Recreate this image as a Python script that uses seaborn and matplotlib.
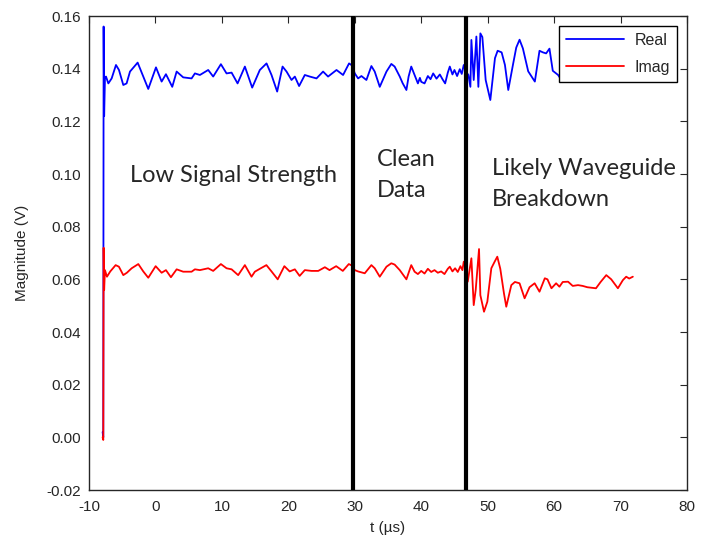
import matplotlib
matplotlib.use("Agg")
import matplotlib.pyplot as plt
import seaborn as sns
import pandas as pd
from matplotlib.lines import Line2D

# ---------------- data ----------------
real_t = [-7.95, -7.85, -7.80, -7.72, -7.60, -7.44, -7.09, -6.59, -5.94, -5.49,
          -4.84, -4.34, -3.83, -2.68, -1.83, -1.08, 0.08, 0.93, 1.58, 2.53,
          3.19, 4.18, 5.44, 5.94, 6.69, 7.94, 8.69, 9.85, 10.7, 11.46,
          12.36, 13.46, 14.56, 15.71, 16.72, 17.47, 18.32, 19.13, 19.73, 20.48,
          20.98, 21.62, 22.48, 23.23, 24.24, 25.23, 25.98, 27.25, 28.24, 29.14,
          29.6, 30.0, 30.5, 31.0, 31.75, 32.5, 33.0, 33.76, 34.77, 35.5,
          36.0, 36.77, 37.2, 37.77, 38.1, 38.5, 39.0, 39.5, 39.8, 40.0,
          40.5, 41.0, 41.4, 41.8, 42.3, 42.8, 43.2, 43.6, 44.0, 44.3,
          44.7, 45.0, 45.4, 45.8, 46.1, 46.4, 46.7, 47.1, 47.4, 47.55,
          47.9, 48.3, 48.6, 48.9, 49.2, 49.7, 50.4, 51.1, 51.5, 52.1,
          52.6, 53.1, 53.8, 54.3, 54.8, 55.3, 56.1, 57.1, 57.8, 58.3,
          58.8, 59.3, 59.8, 60.6, 61.1, 62.0, 63.0, 64.0, 65.0, 66.0,
          67.5, 68.5, 69.5, 70.5, 71.8]
real_v = [0.002, 0.000, 0.156, 0.122, 0.1363, 0.1370, 0.1344, 0.1363, 0.1414, 0.1395,
          0.1338, 0.1344, 0.1389, 0.1423, 0.1370, 0.1323, 0.1405, 0.1351, 0.1379, 0.1331,
          0.1389, 0.1367, 0.1363, 0.1382, 0.1376, 0.1395, 0.1370, 0.1417, 0.1382, 0.1385,
          0.1344, 0.1408, 0.1328, 0.1395, 0.1420, 0.1376, 0.1313, 0.1408, 0.1389, 0.1357,
          0.1370, 0.1334, 0.1376, 0.1370, 0.1363, 0.1389, 0.1370, 0.1395, 0.1376, 0.1420,
          0.1412, 0.1382, 0.1363, 0.1372, 0.1357, 0.1410, 0.1389, 0.1331, 0.1389, 0.1418,
          0.1408, 0.1370, 0.1345, 0.1319, 0.1370, 0.1408, 0.1376, 0.1344, 0.1365, 0.1350,
          0.1344, 0.1372, 0.1360, 0.1382, 0.1362, 0.1378, 0.1360, 0.1344, 0.1385, 0.1408,
          0.1378, 0.1395, 0.1372, 0.1398, 0.1380, 0.1414, 0.1390, 0.1376, 0.1331, 0.1509,
          0.1357, 0.1522, 0.1331, 0.1534, 0.1520, 0.1357, 0.1281, 0.1440, 0.1468, 0.1462,
          0.1414, 0.1319, 0.1414, 0.1480, 0.1510, 0.1477, 0.1390, 0.1351, 0.1468, 0.1462,
          0.1458, 0.1476, 0.1392, 0.1376, 0.1357, 0.1365, 0.1385, 0.1395, 0.1380, 0.1372,
          0.1400, 0.1390, 0.1375, 0.1390, 0.1395]

imag_t = [-7.95, -7.85, -7.80, -7.72, -7.60, -7.3, -6.8, -5.99, -5.5, -4.84,
          -4.3, -3.58, -2.58, -1.83, -1.08, 0.03, 0.93, 1.58, 2.33, 3.19,
          4.18, 5.44, 5.94, 6.69, 7.94, 8.69, 9.85, 10.7, 11.46, 12.45,
          13.46, 14.46, 14.96, 15.71, 16.7, 17.47, 18.4, 19.4, 20.2, 20.98,
          21.7, 22.48, 23.5, 24.5, 25.5, 26.2, 27.2, 28.2, 29.1, 29.6,
          30.0, 30.5, 31.5, 32.5, 33.0, 33.76, 34.77, 35.5, 36.0, 36.77,
          37.77, 38.5, 39.0, 39.5, 40.0, 40.5, 41.0, 41.5, 42.0, 42.5,
          43.0, 43.5, 44.0, 44.3, 44.7, 45.1, 45.5, 45.9, 46.2, 46.4,
          46.7, 47.0, 47.55, 47.9, 48.2, 48.7, 48.9, 49.45, 49.95, 50.55,
          51.05, 51.45, 51.9, 52.45, 52.8, 53.56, 54.1, 54.8, 55.56, 56.3,
          57.07, 57.8, 58.6, 59.0, 59.6, 60.3, 60.8, 61.3, 62.1, 62.8,
          63.6, 64.3, 65.0, 66.3, 67.0, 67.85, 68.6, 69.6, 70.35, 70.85,
          71.3, 71.85]
imag_v = [0.000, -0.001, 0.072, 0.056, 0.0635, 0.0610, 0.0630, 0.0654, 0.0648, 0.0616,
          0.0625, 0.0642, 0.0658, 0.0630, 0.0606, 0.0650, 0.0625, 0.0635, 0.0608, 0.0638,
          0.0629, 0.0629, 0.0638, 0.0635, 0.0642, 0.0632, 0.0658, 0.0642, 0.0638, 0.0616,
          0.0654, 0.0610, 0.0629, 0.0640, 0.0654, 0.0630, 0.0600, 0.0650, 0.0630, 0.0638,
          0.0613, 0.0635, 0.0632, 0.0632, 0.0646, 0.0635, 0.0650, 0.0632, 0.0658, 0.0652,
          0.0635, 0.0630, 0.0623, 0.0654, 0.0642, 0.0610, 0.0648, 0.0661, 0.0656, 0.0635,
          0.0600, 0.0654, 0.0629, 0.0620, 0.0632, 0.0622, 0.0640, 0.0628, 0.0635, 0.0625,
          0.0630, 0.0620, 0.0640, 0.0648, 0.0630, 0.0642, 0.0628, 0.0650, 0.0635, 0.0667,
          0.0640, 0.0591, 0.0680, 0.0502, 0.0560, 0.0715, 0.0540, 0.0477, 0.0515, 0.0642,
          0.0667, 0.0686, 0.0640, 0.0547, 0.0496, 0.0578, 0.0590, 0.0585, 0.0528, 0.0570,
          0.0585, 0.0553, 0.0604, 0.0600, 0.0566, 0.0585, 0.0572, 0.0590, 0.0591, 0.0575,
          0.0578, 0.0575, 0.0570, 0.0566, 0.0590, 0.0616, 0.0600, 0.0566, 0.0597, 0.0610,
          0.0603, 0.0610]

series_names = ["Real", "Imag"]
region_bounds = [29.7, 46.7]
region_labels = ["Low Signal Strength", "Clean\nData", "Likely Waveguide\nBreakdown"]
x_ticks = [-10, 0, 10, 20, 30, 40, 50, 60, 70, 80]
y_ticks = [-0.02, 0.00, 0.02, 0.04, 0.06, 0.08, 0.10, 0.12, 0.14, 0.16]

df = pd.concat([
    pd.DataFrame({"t": real_t, "v": real_v, "series": series_names[0]}),
    pd.DataFrame({"t": imag_t, "v": imag_v, "series": series_names[1]}),
], ignore_index=True)

# ---------------- style ----------------
sns.set_style("white")
plt.rcParams["font.family"] = ["Liberation Sans", "DejaVu Sans"]

fig = plt.figure(figsize=(7.01, 5.42), dpi=100)
ax = fig.add_axes([89 / 701, 1 - 490 / 542, 598 / 701, 474 / 542])

colors = {"Real": "#0000FF", "Imag": "#FF0000"}
sns.lineplot(data=df, x="t", y="v", hue="series", hue_order=series_names,
             palette=colors, estimator=None, sort=False, units="series",
             linewidth=1.3, ax=ax, legend=False)

for xb in region_bounds:
    ax.axvline(xb, color="black", linewidth=3.0, zorder=3)

ax.set_xlim(-10, 80)
ax.set_ylim(-0.02, 0.16)
ax.set_xticks(x_ticks)
ax.set_yticks(y_ticks)
ax.set_xticklabels([str(v) for v in x_ticks])
ax.set_yticklabels([f"{v:.2f}" for v in y_ticks])
ax.tick_params(direction="in", length=5, width=0.8, top=True, right=True,
               labelsize=11, colors="#262626")
ax.tick_params(axis="x", pad=7)
ax.tick_params(axis="y", pad=6)
for sp in ax.spines.values():
    sp.set_color("#262626")
    sp.set_linewidth(1.0)

ax.set_xlabel("t (\u00b5s)", fontsize=11, labelpad=5)
ax.set_ylabel("Magnitude (V)", fontsize=11, labelpad=12)

ann_font = ["Lato", "DejaVu Sans"]
ax.text(-3.9, 0.0996, region_labels[0], fontsize=17, family=ann_font, va="center", ha="left")
ax.text(33.3, 0.0996, region_labels[1], fontsize=17, family=ann_font, va="center", ha="left",
        linespacing=1.55)
ax.text(50.6, 0.0962, region_labels[2], fontsize=17, family=ann_font, va="center", ha="left",
        linespacing=1.55)

handles = [Line2D([], [], color=colors[s], lw=1.3) for s in series_names]
leg = ax.legend(handles, series_names, loc="upper right", fancybox=False, framealpha=1,
                edgecolor="black", fontsize=11.5, handlelength=3.6, borderaxespad=0.6,
                borderpad=0.45, labelspacing=0.75, handletextpad=0.7)
leg.get_frame().set_linewidth(1.0)
leg.set_zorder(5)

fig.savefig("out.png", dpi=100)
